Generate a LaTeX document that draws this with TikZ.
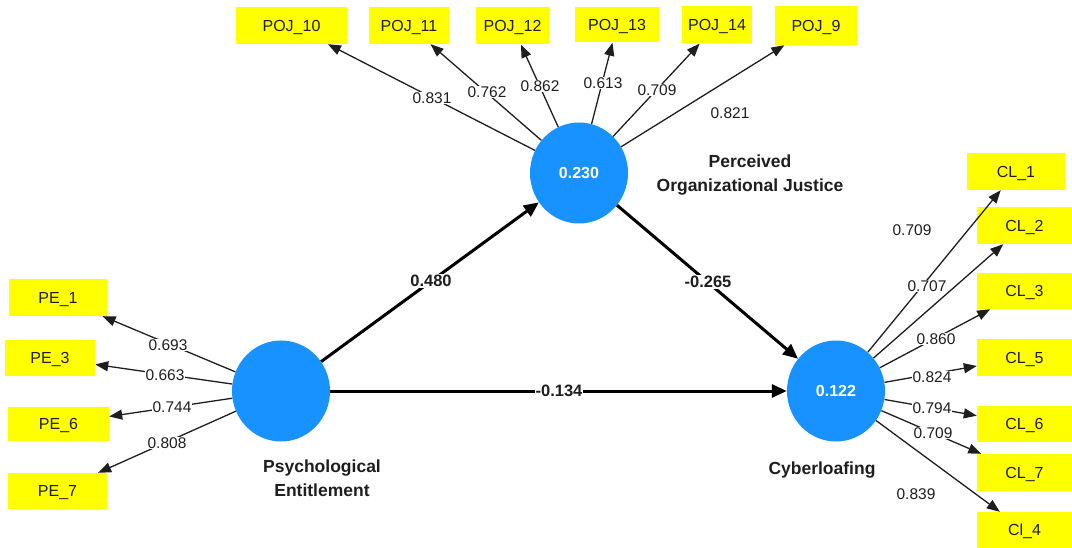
\documentclass[tikz,border=0pt]{standalone}
\usepackage{fontspec}
\setmainfont{Liberation Sans}
\usetikzlibrary{shapes.geometric,arrows.meta}
\definecolor{plsblue}{RGB}{24,146,255}
\definecolor{plsyellow}{RGB}{255,255,0}
\definecolor{ink}{RGB}{30,30,30}
\tikzset{
  lat/.style={ellipse, fill=plsblue, minimum width=98pt, minimum height=101pt, inner sep=0pt,
    text=white, font=\bfseries\fontsize{16}{18}\selectfont},
  ind/.style={rectangle, fill=plsyellow, inner sep=0pt, minimum height=37pt, text=ink,
    text height=11.5pt, text depth=0pt, font=\fontsize{16}{18}\selectfont},
  ld/.style={fill=white, inner sep=1pt, text=ink, font=\fontsize{15.5}{17}\selectfont},
  pc/.style={fill=white, inner sep=1pt, text=ink, font=\bfseries\fontsize{16.5}{18}\selectfont},
  lname/.style={align=center, text=ink, font=\bfseries\fontsize{17.5}{24}\selectfont},
  thinarrow/.style={draw=ink, line width=1.3pt, -{Triangle[length=13pt,width=10pt]}},
  thickarrow/.style={draw=black, line width=3pt, -{Triangle[length=15pt,width=13pt]}}
}
\begin{document}
\begin{tikzpicture}[x=1pt,y=-1pt]
\useasboundingbox (0,0) rectangle (1072,548);
% latent variables
\node[lat] (poj) at (579,173) {0.230};
\node[lat] (pe) at (281,391) {};
\node[lat] (cl) at (836,391) {0.122};
% POJ indicators
\node[ind, minimum width=111pt] (poj10) at (291.5,25.5) {POJ\_10};
\node[ind, minimum width=80pt] (poj11) at (409,25.5) {POJ\_11};
\node[ind, minimum width=73pt] (poj12) at (512.5,26) {POJ\_12};
\node[ind, minimum width=84pt, minimum height=35pt] (poj13) at (617,25) {POJ\_13};
\node[ind, minimum width=70pt] (poj14) at (717,25) {POJ\_14};
\node[ind, minimum width=82pt, minimum height=39pt] (poj9) at (816,25.5) {POJ\_9};
% PE indicators
\node[ind, minimum width=98pt] (pe1) at (58,297.5) {PE\_1};
\node[ind, minimum width=90pt, minimum height=36pt] (pe3) at (50,358) {PE\_3};
\node[ind, minimum width=101pt, minimum height=34pt] (pe6) at (58.5,424) {PE\_6};
\node[ind, minimum width=99pt, minimum height=36pt] (pe7) at (57.5,491) {PE\_7};
% CL indicators
\node[ind, minimum width=98pt] (cl1) at (1016,171.5) {CL\_1};
\node[ind, minimum width=95pt] (cl2) at (1024.5,225.5) {CL\_2};
\node[ind, minimum width=95pt, minimum height=36pt] (cl3) at (1024.5,291) {CL\_3};
\node[ind, minimum width=95pt] (cl5) at (1024.5,357.5) {CL\_5};
\node[ind, minimum width=95pt, minimum height=36pt] (cl6) at (1024.5,424) {CL\_6};
\node[ind, minimum width=95pt] (cl7) at (1024.5,472.5) {CL\_7};
\node[ind, minimum width=95pt, minimum height=36pt] (cl4) at (1024.5,530) {Cl\_4};
% outer loadings
\foreach \t in {poj10,poj11,poj12,poj13,poj14,poj9} \draw[thinarrow] (poj) -- (\t);
\foreach \t in {pe1,pe3,pe6,pe7} \draw[thinarrow] (pe) -- (\t);
\foreach \t in {cl1,cl2,cl3,cl5,cl6,cl7,cl4} \draw[thinarrow] (cl) -- (\t);
% structural paths
\draw[thickarrow] (pe) -- (poj);
\draw[thickarrow] (poj) -- (cl);
\draw[thickarrow] (pe) -- (cl);
% loading values
\node[ld] (v1) at (432,98) {0.831};
\node[ld] (v2) at (487,92) {0.762};
\node[ld] (v3) at (540,86) {0.862};
\node[ld] (v4) at (603,83) {0.613};
\node[ld] (v5) at (657,90) {0.709};
\node[ld] (v6) at (730,113) {0.821};
\node[ld] (v7) at (168,345) {0.693};
\node[ld] (v8) at (165,375) {0.663};
\node[ld] (v9) at (172,407) {0.744};
\node[ld] (v10) at (167,443) {0.808};
\node[ld] (v11) at (912,230) {0.709};
\node[ld] (v12) at (927,286) {0.707};
\node[ld] (v13) at (936,339) {0.860};
\node[ld] (v14) at (932,377) {0.824};
\node[ld] (v15) at (932,408) {0.794};
\node[ld] (v16) at (933,433) {0.709};
\node[ld] (v17) at (916,494) {0.839};
% path coefficients
\node[pc] (p1) at (431,281) {0.480};
\node[pc] (p2) at (708,282) {-0.265};
\node[pc] (p3) at (559,391) {-0.134};
% construct names
\node[lname] (n1) at (750,175) {Perceived\\Organizational Justice};
\node[lname] (n2) at (322,478) {Psychological\\Entitlement};
\node[lname] (n3) at (822,470) {Cyberloafing};
\end{tikzpicture}
\end{document}
